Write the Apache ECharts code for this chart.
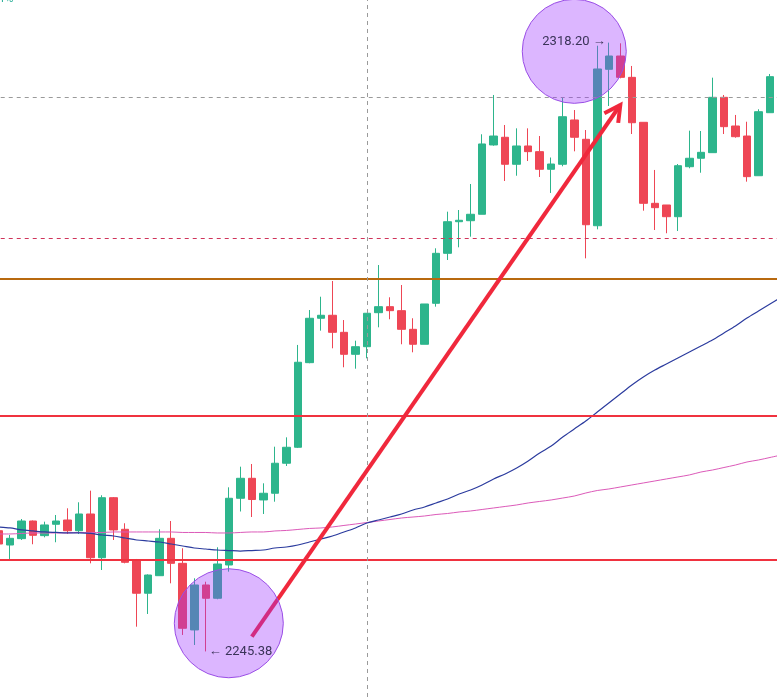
<!DOCTYPE html>
<html>
<head>
<meta charset="utf-8">
<script src="https://cdn.jsdelivr.net/npm/echarts@6/dist/echarts.min.js"></script>
<style>
html,body{margin:0;padding:0;background:#fff;}
#chart{width:777px;height:697px;}
</style>
</head>
<body>
<div id="chart"></div>
<script>
// ---- data ----
const categories = ['1','2','3','4','5','6','7','8','9','10','11','12','13','14','15','16','17','18','19','20',
 '21','22','23','24','25','26','27','28','29','30','31','32','33','34','35','36','37','38','39','40',
 '41','42','43','44','45','46','47','48','49','50','51','52','53','54','55','56','57','58','59','60',
 '61','62','63','64','65','66','67','68','69'];

const openVals = [2259.82,2258.11,2258.87,2260.98,2259.23,2260.59,2261.10,2259.82,2261.82,2256.59,
 2263.77,2259.99,2256.32,2252.34,2254.44,2258.91,2255.92,2247.95,2253.33,2251.74,
 2255.72,2263.70,2266.09,2263.50,2264.30,2267.89,2269.80,2279.92,2285.23,2285.59,
 2283.55,2280.92,2281.83,2285.90,2286.62,2286.14,2283.91,2282.12,2287.02,2293.00,
 2296.78,2296.90,2297.67,2305.96,2306.88,2303.65,2305.84,2305.16,2303.05,2303.65,
 2308.95,2306.64,2296.30,2315.01,2316.60,2314.05,2308.67,2298.98,2298.78,2297.38,
 2303.36,2304.37,2305.04,2311.66,2308.23,2307.03,2302.28,2309.82];
const closeVals = [2258.23,2258.91,2260.98,2259.27,2260.51,2260.98,2259.82,2261.82,2256.59,2263.77,
 2259.91,2256.04,2252.34,2254.52,2258.91,2255.92,2248.15,2253.33,2251.74,2255.84,
 2263.70,2266.09,2263.55,2264.30,2267.89,2269.80,2279.97,2285.23,2285.59,2283.55,
 2280.92,2281.83,2285.83,2286.62,2286.14,2283.91,2282.12,2286.94,2293.00,2296.78,
 2296.95,2297.67,2306.08,2307.03,2303.65,2305.84,2305.16,2303.05,2303.68,2309.34,
 2306.88,2296.42,2315.05,2316.60,2314.05,2308.62,2298.98,2298.46,2297.38,2303.48,
 2304.37,2305.08,2311.66,2308.15,2306.95,2302.17,2309.94,2314.13];
const lowVals = [2257.99,2256.44,2258.71,2258.20,2259.03,2258.44,2259.43,2259.43,2255.92,2255.12,
 2258.71,2255.92,2248.34,2249.86,2254.44,2253.53,2247.35,2246.15,2245.38,2251.62,
 2254.92,2262.12,2261.46,2261.82,2263.29,2267.56,2269.71,2279.85,2283.75,2281.64,
 2279.37,2279.20,2280.44,2284.15,2285.11,2282.12,2281.16,2282.12,2286.62,2292.20,
 2293.72,2294.99,2297.67,2305.87,2301.65,2302.28,2304.04,2302.13,2300.22,2303.41,
 2305.20,2292.40,2295.87,2310.62,2313.93,2307.27,2298.10,2295.79,2295.40,2295.67,
 2303.17,2302.64,2305.04,2307.27,2306.83,2301.57,2302.28,2309.82];
const highVals = [2260.15,2259.31,2261.22,2261.04,2260.90,2261.70,2262.50,2263.22,2264.61,2264.06,
 2263.85,2260.71,2256.44,2254.60,2259.99,2260.98,2257.72,2254.13,2253.72,2257.84,
 2265.01,2267.48,2267.80,2265.49,2269.87,2270.99,2282.04,2286.22,2287.81,2289.69,
 2285.02,2282.55,2285.86,2291.60,2287.74,2289.21,2285.23,2286.94,2293.60,2297.98,
 2298.18,2301.29,2307.24,2311.94,2308.35,2307.95,2307.95,2307.03,2304.46,2311.58,
 2310.14,2307.75,2317.83,2318.20,2318.12,2315.41,2308.67,2302.97,2298.78,2303.68,
 2307.67,2307.63,2314.01,2311.94,2309.55,2308.74,2310.23,2314.45];

const maBlue = [2260.27,2260.15,2259.91,2259.79,2259.67,2259.61,2259.55,2259.55,2259.49,2259.31,
 2259.19,2258.95,2258.71,2258.59,2258.47,2258.23,2257.99,2257.75,2257.63,2257.51,
 2257.45,2257.39,2257.45,2257.51,2257.75,2257.87,2258.11,2258.47,2258.83,2259.19,
 2259.67,2260.15,2260.74,2261.10,2261.46,2261.82,2262.30,2262.66,2263.14,2263.61,
 2264.21,2264.69,2265.29,2266.01,2266.61,2267.32,2268.16,2269.12,2269.95,2271.03,
 2271.99,2272.94,2274.02,2275.10,2276.17,2277.25,2278.21,2279.04,2279.76,2280.48,
 2281.20,2281.92,2282.63,2283.47,2284.31,2285.26,2286.10,2286.94,2287.78];
const maPink = [2259.43,2259.43,2259.49,2259.55,2259.55,2259.55,2259.55,2259.61,2259.61,2259.61,
 2259.67,2259.67,2259.67,2259.67,2259.67,2259.67,2259.61,2259.61,2259.61,2259.55,
 2259.55,2259.61,2259.67,2259.67,2259.79,2259.85,2259.97,2260.09,2260.15,2260.27,
 2260.45,2260.62,2260.80,2260.98,2261.16,2261.34,2261.46,2261.58,2261.76,2261.88,
 2262.06,2262.18,2262.36,2262.54,2262.72,2262.90,2263.14,2263.32,2263.50,2263.73,
 2263.97,2264.33,2264.63,2264.81,2265.05,2265.29,2265.53,2265.77,2266.01,2266.25,
 2266.49,2266.84,2267.08,2267.38,2267.68,2268.04,2268.28,2268.58,2268.88];

// horizontal levels
const levelGrayDashed = 2311.66;
const levelRedDashed = 2294.80;
const levelBrown = 2290.01;
const levelRed1 = 2273.54;
const levelRed2 = 2256.32;
const verticalMarkerIndex = 32;

// annotations (category index, price)
const circleCenters = [[19.97, 2248.75], [50.0, 2317.16]];
const circleRadii = [54.5, 52];
const arrowStart = [22.13, 2247.14];
const arrowEnd = [54.23, 2310.74];
const lowLabel = {idx: 18, price: 2245.38, text: '\u2190 2245.38'};
const highLabel = {idx: 53, price: 2318.20, text: '2318.20 \u2192'};

// ---- build ----
const candleData = categories.map((c, i) =>
  i < openVals.length ? [openVals[i], closeVals[i], lowVals[i], highVals[i]] : '-');

const UP = '#2db58c', DOWN = '#ee4655';

const chart = echarts.init(document.getElementById('chart'), null, {renderer: 'canvas'});

function annotationRender(params, api) {
  const children = [];
  const a = api.coord(arrowStart), b = api.coord(arrowEnd);
  const ang = Math.atan2(a[1] - b[1], a[0] - b[0]);
  const L = 18, spread = 28 * Math.PI / 180;
  const p1 = [b[0] + L * Math.cos(ang + spread), b[1] + L * Math.sin(ang + spread)];
  const p2 = [b[0] + L * Math.cos(ang - spread), b[1] + L * Math.sin(ang - spread)];
  children.push({type: 'line', shape: {x1: a[0], y1: a[1], x2: b[0], y2: b[1]},
    style: {stroke: '#f0283c', lineWidth: 4, lineCap: 'butt'}});
  children.push({type: 'polyline', shape: {points: [p1, b, p2]},
    style: {stroke: '#f0283c', lineWidth: 4, fill: null, lineJoin: 'miter', lineCap: 'butt'}});
  circleCenters.forEach((cc, i) => {
    const c = api.coord(cc);
    children.push({type: 'circle', shape: {cx: c[0], cy: c[1], r: circleRadii[i]},
      style: {fill: 'rgba(158,52,255,0.36)', stroke: '#9a4ee6', lineWidth: 1}});
  });
  const lp = api.coord([lowLabel.idx, lowLabel.price]);
  children.push({type: 'text', x: lp[0] + 3, y: lp[1],
    style: {text: lowLabel.text, fill: '#3a3358', font: '13px Roboto', align: 'left', verticalAlign: 'middle'}});
  const hp = api.coord([highLabel.idx, highLabel.price]);
  children.push({type: 'text', x: hp[0] - 3, y: hp[1] - 1,
    style: {text: highLabel.text, fill: '#3a3358', font: '13px Roboto', align: 'right', verticalAlign: 'middle'}});
  return {type: 'group', children: children};
}

const option = {
  animation: false,
  backgroundColor: '#ffffff',
  grid: {left: -7.26, width: 794.54, top: 0, height: 697, containLabel: false, outerBoundsMode: 'none'},
  xAxis: {type: 'category', data: categories, show: false, boundaryGap: true},
  yAxis: {type: 'value', min: 2239.93, max: 2323.30, show: false, splitLine: {show: false}},
  graphic: [{type: 'text', left: -1, top: -6,
    style: {text: '1%', fill: '#22ab94', font: '11px Roboto'}}],
  series: [
    {
      type: 'candlestick', data: candleData, barWidth: 8, z: 2,
      itemStyle: {color: UP, color0: DOWN, borderColor: UP, borderColor0: DOWN, borderWidth: 1}
    },
    {
      type: 'line', data: maPink, smooth: 0.3, showSymbol: false, z: 3,
      lineStyle: {color: '#dc5ab9', width: 1}
    },
    {
      type: 'line', data: maBlue, smooth: 0.3, showSymbol: false, z: 3,
      lineStyle: {color: '#2b3b9e', width: 1.2}
    },
    {
      type: 'line', data: [], z: 4,
      markLine: {
        silent: true, symbol: ['none', 'none'], label: {show: false}, animation: false,
        data: [
          {yAxis: levelGrayDashed, lineStyle: {color: '#9a9a9a', width: 1, type: [4, 4]}},
          {yAxis: levelRedDashed, lineStyle: {color: '#d0345a', width: 1, type: [4, 4]}},
          {yAxis: levelBrown, lineStyle: {color: '#b8690f', width: 2, type: 'solid'}},
          {yAxis: levelRed1, lineStyle: {color: '#f0323f', width: 2, type: 'solid'}},
          {yAxis: levelRed2, lineStyle: {color: '#f0323f', width: 2, type: 'solid'}},
          {xAxis: verticalMarkerIndex, lineStyle: {color: '#9a9a9a', width: 1, type: [4, 4]}}
        ]
      }
    },
    {
      type: 'custom', z: 10, data: [[0, 2280]], renderItem: annotationRender, silent: true
    }
  ]
};
chart.setOption(option);
</script>
</body>
</html>
